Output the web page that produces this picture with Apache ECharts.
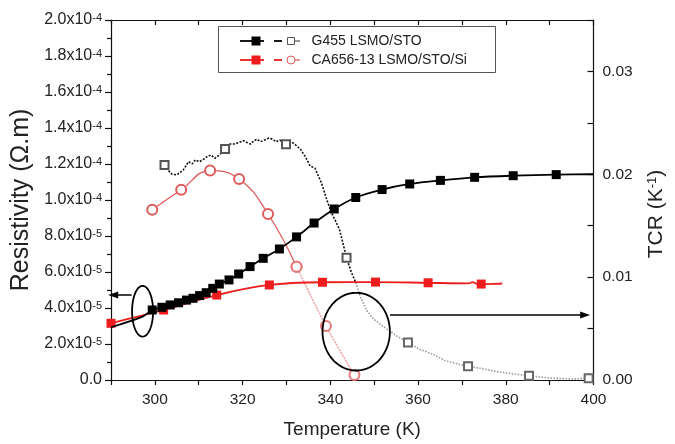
<!DOCTYPE html>
<html><head><meta charset="utf-8">
<script src="https://cdn.jsdelivr.net/npm/echarts@6/dist/echarts.min.js"></script>
<style>html,body{margin:0;padding:0;background:#fff}#c{width:675px;height:444px}</style>
</head><body><div id="c"></div>
<script>
// ---------- axes ----------
const xMin = 290, xMax = 400, xStep = 10, xLabelStep = 20;
const resMax = 20, resStep = 2;          // resistivity axis in units of 1e-5 Ohm.m
const tcrMax = 0.035, tcrStep = 0.005;  // TCR axis in 1/K

// ---------- G455 LSMO/STO : resistivity (1e-5 Ohm.m) ----------
const g455ResStart = [[290, 2.93], [297.2, 3.52]];
const g455ResMarks = [
  [299.4, 3.89], [301.6, 4.04], [303.5, 4.17], [305.4, 4.29], [307.2, 4.44], [308.7, 4.54],
  [310.2, 4.69], [311.7, 4.85], [313.2, 5.09], [314.7, 5.33], [316.9, 5.56], [319.1, 5.89],
  [321.7, 6.30], [324.7, 6.76], [328.4, 7.28], [332.3, 7.95], [336.3, 8.72], [340.9, 9.50],
  [345.8, 10.14], [351.8, 10.58], [358.1, 10.89], [365.1, 11.09], [372.9, 11.26],
  [381.7, 11.35], [391.5, 11.41]
];
const g455ResEnd = [[400, 11.43]];

// ---------- CA656-13 LSMO/STO/Si : resistivity (1e-5 Ohm.m) ----------
const caResMarks = [
  [290, 3.15], [302.0, 3.89], [314.1, 4.72], [326.1, 5.28], [338.2, 5.43],
  [350.3, 5.44], [362.3, 5.40], [374.4, 5.33]
];
const caResLine = [[371.6, 5.37], [372.4, 5.44], [373.2, 5.36], [377.0, 5.34], [379.2, 5.36]];

// ---------- G455 LSMO/STO : TCR (1/K) ----------
const g455Tcr = [
  [302.2, 0.02091], [303.1, 0.02036], [303.9, 0.02001], [305.0, 0.01994], [305.7, 0.02017],
  [306.5, 0.02043], [307.2, 0.02091], [307.7, 0.02123], [308.5, 0.02101], [309.2, 0.02139],
  [310.2, 0.02123], [311.1, 0.02146], [311.9, 0.02171], [312.8, 0.02188], [313.7, 0.02156],
  [314.7, 0.02188], [316.0, 0.02246], [316.9, 0.02294], [318.0, 0.02294], [319.1, 0.02307],
  [320.2, 0.02326], [321.1, 0.02307], [321.8, 0.02294], [322.6, 0.02326], [323.3, 0.02340],
  [324.1, 0.02317], [325.0, 0.02333], [326.0, 0.02352], [326.9, 0.02340], [327.6, 0.02317],
  [328.5, 0.02333], [329.9, 0.02291], [331.4, 0.02307], [332.1, 0.02285], [333.2, 0.02243],
  [334.3, 0.02171], [335.4, 0.02081], [336.5, 0.02059], [338.0, 0.01914], [339.2, 0.01752],
  [340.3, 0.01623], [341.4, 0.01527], [342.1, 0.01462], [343.7, 0.01188], [344.7, 0.01058],
  [345.8, 0.00946], [346.9, 0.00801], [348.4, 0.00671], [349.9, 0.00591], [351.4, 0.00542],
  [352.9, 0.00494], [355.1, 0.00429], [357.7, 0.00365], [360.3, 0.00300], [363.3, 0.00252],
  [366.2, 0.00187], [369.2, 0.00155], [371.4, 0.00133], [374.4, 0.00113], [378.1, 0.00080],
  [381.8, 0.00058], [385.3, 0.00042], [388.5, 0.00026], [391.5, 0.00016], [395.2, 0.00010],
  [398.9, 0.00016]
];
const g455TcrMarkT = [302.2, 316.0, 329.9, 343.7, 357.7, 371.4, 385.3, 398.9];
const g455TcrSplitT = 345.8;

// ---------- CA656-13 LSMO/STO/Si : TCR (1/K) ----------
const caTcrMarks = [
  [299.4, 0.01655], [306.0, 0.01849], [312.6, 0.02036], [319.2, 0.01955],
  [325.8, 0.01614], [332.3, 0.01101], [339.0, 0.00526], [345.5, 0.00048]
];
const caTcrEnd = [[346.6, 0.0]];
const caTcrSplitT = 332.3;

// ---------- annotations [T, value, halfWidth(K), halfHeight(value)] ----------
const ellipseRes = [[297.2, 3.82, 2.4, 1.41]];
const ellipseTcr = [[345.9, 0.0047, 7.68, 0.00378]];
const arrowRes = [[294.7, 4.72], [290.5, 4.72]];
const arrowTcr = [[353.6, 0.00632], [398.1, 0.00632]];

const FF = 'Liberation Sans';

function pts(arr, sym) { return arr.map(p => ({ value: p, symbol: sym })); }
function byT(a, b) { return a.value[0] - b.value[0]; }

const g455ResData = [...pts(g455ResStart, 'none'), ...pts(g455ResMarks, 'rect'), ...pts(g455ResEnd, 'none')].sort(byT);
const caResData = [...pts(caResMarks, 'rect'), ...pts(caResLine, 'none')].sort(byT);
const g455TcrData = g455Tcr.map(p => ({ value: p, symbol: g455TcrMarkT.indexOf(p[0]) >= 0 ? 'emptyRect' : 'none' }));
const g455TcrHead = g455TcrData.filter(d => d.value[0] <= g455TcrSplitT);
const g455TcrTail = g455TcrData.filter(d => d.value[0] >= g455TcrSplitT);
const caTcrData = [...pts(caTcrMarks, 'emptyCircle'), ...pts(caTcrEnd, 'none')];
const caTcrHead = caTcrData.filter(d => d.value[0] <= caTcrSplitT);
const caTcrTail = caTcrData.filter(d => d.value[0] >= caTcrSplitT);

function ellipseItem(params, api) {
  const c = api.coord([api.value(0), api.value(1)]);
  const s = api.size([api.value(2), api.value(3)]);
  const p = [];
  for (let i = 0; i < 90; i++) {
    const a = i / 90 * Math.PI * 2;
    p.push([c[0] + s[0] * Math.cos(a), c[1] + s[1] * Math.sin(a)]);
  }
  return { type: 'polygon', shape: { points: p }, style: { fill: 'none', stroke: '#000', lineWidth: 1.8 } };
}
function arrowLine(a) {
  return {
    silent: true, symbol: ['none', 'triangle'], symbolSize: [7, 10],
    label: { show: false }, lineStyle: { color: '#000', width: 1.5, type: 'solid' },
    itemStyle: { color: '#000' },
    emphasis: { disabled: true },
    data: [[{ coord: a[0] }, { coord: a[1] }]]
  };
}

const axisColor = '#111';
const labelColor = '#222';

const chart = echarts.init(document.getElementById('c'), null, { renderer: 'canvas' });
chart.setOption({
  animation: false,
  backgroundColor: '#fff',
  grid: { left: 111, right: 69, top: 20, bottom: 62, containLabel: false },
  xAxis: [{
    type: 'value', min: xMin, max: xMax, interval: xStep, position: 'bottom',
    name: 'Temperature (K)', nameLocation: 'middle', nameGap: 40,
    nameTextStyle: { fontFamily: FF, fontSize: 19, color: labelColor },
    axisLine: { show: true, onZero: false, lineStyle: { color: axisColor, width: 1.2 } },
    axisTick: { show: true, inside: false, length: 5, lineStyle: { color: axisColor, width: 1.2 } },
    axisLabel: { margin: 12, fontFamily: FF, fontSize: 15.5, color: labelColor,
      formatter: v => (Math.round(v) % xLabelStep === 0 ? String(Math.round(v)) : '') },
    splitLine: { show: false }
  }, {
    type: 'value', min: xMin, max: xMax, interval: xStep, position: 'top',
    axisLine: { show: true, onZero: false, lineStyle: { color: axisColor, width: 1.2 } },
    axisTick: { show: true, inside: true, length: 5, lineStyle: { color: axisColor, width: 1.2 } },
    axisLabel: { show: false }, splitLine: { show: false }
  }],
  yAxis: [{
    type: 'value', min: 0, max: resMax, interval: resStep, position: 'left',
    name: 'Resistivity (\u03A9.m)', nameLocation: 'middle', nameGap: 76,
    nameTextStyle: { fontFamily: FF, fontSize: 25, color: labelColor },
    axisLine: { show: true, onZero: false, lineStyle: { color: axisColor, width: 1.2 } },
    axisTick: { show: true, inside: false, length: 6, lineStyle: { color: axisColor, width: 1.2 } },
    minorTick: { show: true, splitNumber: 2, length: 4, lineStyle: { color: axisColor, width: 1.2 } },
    axisLabel: {
      margin: 9, color: labelColor,
      formatter: v => {
        const r = Math.round(v * 1000) / 1000;
        if (r === 0) return '{m|0.0}';
        let e = -5, m = r;
        if (r >= 10) { e = -4; m = r / 10; }
        return '{m|' + m.toFixed(1) + 'x10}{e|' + e + '}';
      },
      rich: {
        m: { fontFamily: FF, fontSize: 16, color: labelColor, lineHeight: 16 },
        e: { fontFamily: FF, fontSize: 11, color: labelColor, verticalAlign: 'top', lineHeight: 9 }
      }
    },
    splitLine: { show: false }
  }, {
    type: 'value', min: 0, max: tcrMax, interval: tcrStep, position: 'right',
    name: '{a|TCR (K}{s|-1}{a|)}', nameLocation: 'middle', nameGap: 52,
    nameTextStyle: { padding: [0, 28, 0, 0], rich: {
      a: { fontFamily: FF, fontSize: 21, color: labelColor, lineHeight: 22 },
      s: { fontFamily: FF, fontSize: 13, color: labelColor, verticalAlign: 'top', lineHeight: 12 }
    } },
    axisLine: { show: true, onZero: false, lineStyle: { color: axisColor, width: 1.2 } },
    axisTick: { show: true, inside: true, length: 6, lineStyle: { color: axisColor, width: 1.2 } },
    axisLabel: { margin: 9, fontFamily: FF, fontSize: 15.5, color: labelColor,
      formatter: v => (Math.round(v / tcrStep) % 2 === 0 ? v.toFixed(2) : '') },
    splitLine: { show: false }
  }],
  series: [
    { name: 'G455 rho', type: 'line', xAxisIndex: 0, yAxisIndex: 0, data: g455ResData, smooth: 0.3,
      symbolSize: 9, itemStyle: { color: '#000' }, lineStyle: { color: '#000', width: 1.8 }, z: 5 },
    { name: 'CA656 rho', type: 'line', xAxisIndex: 0, yAxisIndex: 0, data: caResData, smooth: 0.3,
      symbolSize: 9, itemStyle: { color: '#ee1c1c' }, lineStyle: { color: '#ee1c1c', width: 1.8 }, z: 4 },
    { name: 'G455 TCR', type: 'line', xAxisIndex: 0, yAxisIndex: 1, data: g455TcrHead, smooth: false,
      symbolSize: 8, itemStyle: { color: '#555', borderWidth: 1 },
      lineStyle: { color: '#111', width: 1.6, type: [2, 1.5] }, z: 3 },
    { name: 'G455 TCR tail', type: 'line', xAxisIndex: 0, yAxisIndex: 1, data: g455TcrTail, smooth: false,
      symbolSize: 8, itemStyle: { color: '#666', borderWidth: 1 },
      lineStyle: { color: '#9a9a9a', width: 1.6, type: [1.5, 1.5] }, z: 3 },
    { name: 'CA656 TCR', type: 'line', xAxisIndex: 0, yAxisIndex: 1, data: caTcrHead, smooth: 0.45,
      symbolSize: 10, itemStyle: { color: '#e05a5a', borderWidth: 1 },
      lineStyle: { color: '#e05a5a', width: 1.3 }, z: 2 },
    { name: 'CA656 TCR tail', type: 'line', xAxisIndex: 0, yAxisIndex: 1, data: caTcrTail, smooth: 0.2,
      symbolSize: 10, itemStyle: { color: '#e87878', borderWidth: 1 },
      lineStyle: { color: '#f3a3a3', width: 1.6, type: [2, 1] }, z: 2 },
    { name: 'ann1', type: 'custom', xAxisIndex: 0, yAxisIndex: 0, data: ellipseRes, renderItem: ellipseItem,
      silent: true, z: 6, markLine: arrowLine(arrowRes) },
    { name: 'ann2', type: 'custom', xAxisIndex: 0, yAxisIndex: 1, data: ellipseTcr, renderItem: ellipseItem,
      silent: true, z: 6, markLine: arrowLine(arrowTcr) }
  ]
});

// ---------- legend (drawn as graphic) ----------
const legendRows = [
  { text: 'G455 LSMO/STO', color: '#000', open: '#555', openShape: 'rect', y: 41 },
  { text: 'CA656-13 LSMO/STO/Si', color: '#ee1c1c', open: '#e05a5a', openShape: 'circle', y: 60 }
];
const lg = [{ type: 'rect', shape: { x: 218.5, y: 26.5, width: 277, height: 46 },
  style: { fill: '#fff', stroke: '#555', lineWidth: 1 } }];
legendRows.forEach(r => {
  lg.push({ type: 'line', shape: { x1: 240, y1: r.y, x2: 264, y2: r.y }, style: { stroke: r.color, lineWidth: 1.8 } });
  lg.push({ type: 'rect', shape: { x: 251.5, y: r.y - 4.5, width: 9, height: 9 }, style: { fill: r.color } });
  lg.push({ type: 'line', shape: { x1: 274, y1: r.y, x2: 282, y2: r.y }, style: { stroke: r.color, lineWidth: 1.8 } });
  if (r.openShape === 'rect') {
    lg.push({ type: 'rect', shape: { x: 287.5, y: r.y - 3.5, width: 7, height: 7 }, style: { fill: '#fff', stroke: r.open, lineWidth: 1 } });
  } else {
    lg.push({ type: 'circle', shape: { cx: 291, cy: r.y, r: 4 }, style: { fill: '#fff', stroke: r.open, lineWidth: 1 } });
  }
  lg.push({ type: 'line', shape: { x1: 295, y1: r.y, x2: 300, y2: r.y }, style: { stroke: r.open, lineWidth: 1.2 } });
  lg.push({ type: 'text', x: 311.5, y: r.y, style: { text: r.text, fontFamily: FF, fontSize: 14, fill: '#222', verticalAlign: 'middle' } });
});
chart.setOption({ graphic: [{ type: 'group', z: 100, children: lg }] });
</script>
</body></html>
